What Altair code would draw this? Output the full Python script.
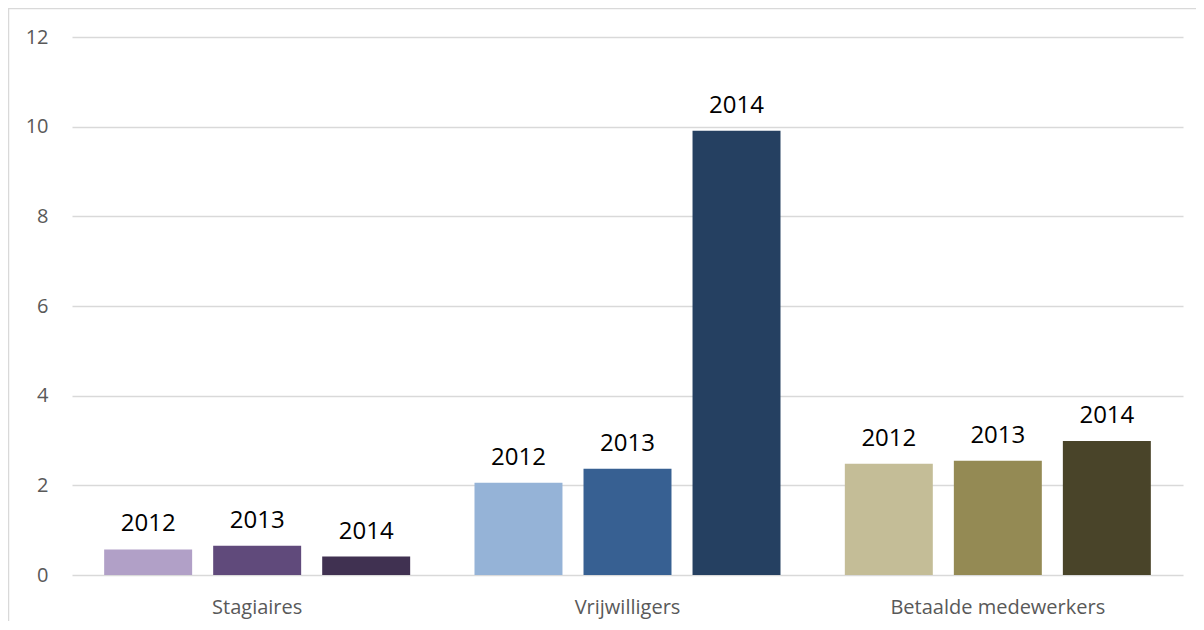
import altair as alt
import pandas as pd

categories = ["Stagiaires", "Vrijwilligers", "Betaalde medewerkers"]
years = ["2012", "2013", "2014"]
stagiaires = [0.57, 0.65, 0.41]
vrijwilligers = [2.06, 2.37, 9.91]
betaalde = [2.48, 2.55, 2.99]
colors = {
    "Stagiaires": ["#b1a0c7", "#604a7b", "#403151"],
    "Vrijwilligers": ["#95b3d7", "#376092", "#254061"],
    "Betaalde medewerkers": ["#c4bd97", "#948a54", "#494429"],
}

rows = []
for cat, vals in zip(categories, [stagiaires, vrijwilligers, betaalde]):
    for yr, v in zip(years, vals):
        rows.append({"cat": cat, "year": yr, "value": v, "key": f"{cat}-{yr}"})
df = pd.DataFrame(rows)

key_domain = [f"{c}-{y}" for c in categories for y in years]
key_range = [col for c in categories for col in colors[c]]

W, H = 1111, 538
FONT = "Open Sans"

base = alt.Chart(df).encode(
    x=alt.X("cat:N", sort=categories,
            scale=alt.Scale(paddingInner=0, paddingOuter=0),
            axis=alt.Axis(title=None, labelAngle=0, ticks=False, domain=False,
                          labelPadding=22, labelFontSize=20, labelColor="#595959",
                          labelFont=FONT, grid=False, labelLimit=400)),
    xOffset=alt.XOffset("year:N", sort=years,
                        scale=alt.Scale(paddingInner=0.193, paddingOuter=0.295)),
    y=alt.Y("value:Q", scale=alt.Scale(domain=[0, 12]),
            axis=alt.Axis(title=None, values=[0, 2, 4, 6, 8, 10, 12], ticks=False,
                          domain=False, labelPadding=24, labelFontSize=20,
                          labelColor="#595959", labelFont=FONT,
                          gridColor="#d9d9d9", gridWidth=1.3)),
)

bars = base.mark_bar().encode(
    color=alt.Color("key:N", scale=alt.Scale(domain=key_domain, range=key_range),
                    legend=None)
)

labels = base.mark_text(baseline="alphabetic", dy=-18, fontSize=24,
                        font=FONT, color="#000000").encode(text="year:N")

frame = alt.Chart(pd.DataFrame({"a": [0]})).mark_rect(
    fill="transparent", stroke="#d9d9d9", strokeWidth=1.5
).encode(
    x=alt.value(-63.5), x2=alt.value(1400),
    y=alt.value(-28.5), y2=alt.value(700)
)

chart = alt.layer(frame, bars, labels).properties(
    width=W, height=H,
    background="white",
    autosize=alt.AutoSizeParams(type="none"),
    padding={"left": 64, "top": 29, "right": 13, "bottom": 46},
).configure_view(stroke=None)

chart.save("out.html", embed_options={"renderer": "svg", "actions": False})
